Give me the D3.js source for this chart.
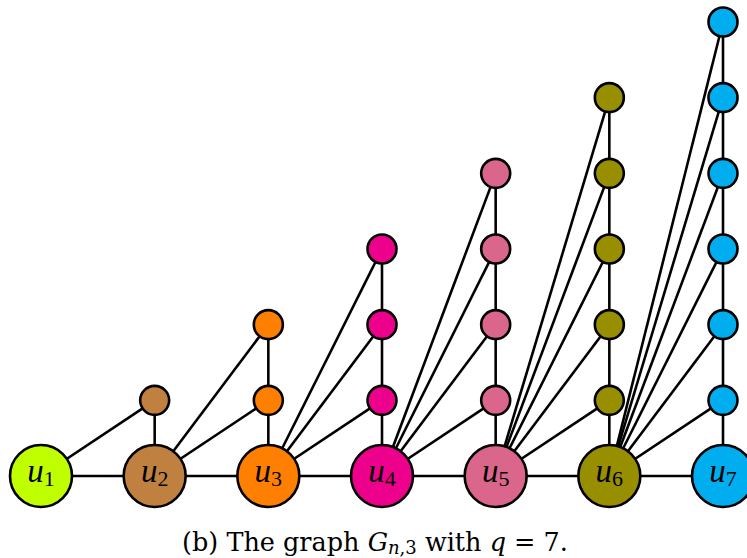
<!DOCTYPE html>
<html>
<head>
<meta charset="utf-8">
<script src="https://cdn.jsdelivr.net/npm/d3@7"></script>
<style>
  body { margin: 0; background: #fff; }
  svg { display: block; }
  .edge { stroke: #000; stroke-width: 2.6; fill: none; }
  .node { stroke: #000; stroke-width: 2.6; }
  .lbl { font-family: "Liberation Serif", serif; fill: #000; }
  .cap { font-family: "DejaVu Serif", serif; fill: #000; }
</style>
</head>
<body>
<svg id="graph" width="747" height="558"></svg>
<script>
/* Data: one column per main vertex u_i */
const names = ["u1", "u2", "u3", "u4", "u5", "u6", "u7"];
const subs = ["1", "2", "3", "4", "5", "6", "7"];
const colors = ["#bfff00", "#c08040", "#ff8000", "#ec008c", "#da668c", "#978e00", "#00aeef"];
const stackSizes = [0, 1, 2, 3, 4, 5, 6];   // small vertices above u_i

const svg = d3.select("#graph");
const x = d3.scaleLinear().domain([0, 6]).range([41, 723]);
const y = d3.scaleLinear().domain([0, 6]).range([476, 22]);

const big = names.map((n, i) => ({ i: i, name: n, level: 0 }));
const small = [];
stackSizes.forEach(function(k, i) {
    for (let l = 1; l <= k; l++) small.push({ i: i, level: l });
});

// edges
const edges = [];
for (let i = 0; i < names.length - 1; i++)
    edges.push([{ i: i, level: 0 }, { i: i + 1, level: 0 }]);
small.forEach(function(s) {
    edges.push([{ i: s.i, level: s.level - 1 }, s]);        // column
    edges.push([{ i: s.i - 1, level: 0 }, s]);              // from previous u
});

svg.selectAll("line.edge")
    .data(edges).enter()
    .append("line").attr("class", "edge")
    .attr("x1", d => x(d[0].i)).attr("y1", d => y(d[0].level))
    .attr("x2", d => x(d[1].i)).attr("y2", d => y(d[1].level));

svg.selectAll("circle.small")
    .data(small).enter()
    .append("circle").attr("class", "node small")
    .attr("cx", d => x(d.i)).attr("cy", d => y(d.level))
    .attr("r", 14.5)
    .attr("fill", d => colors[d.i]);

svg.selectAll("circle.big")
    .data(big).enter()
    .append("circle").attr("class", "node big")
    .attr("cx", d => x(d.i)).attr("cy", d => y(d.level))
    .attr("r", 31)
    .attr("fill", d => colors[d.i]);

const lbl = svg.selectAll("text.node-label")
    .data(big).enter()
    .append("text").attr("class", "lbl node-label")
    .attr("x", d => x(d.i)).attr("y", d => y(0) + 6)
    .attr("text-anchor", "middle");
lbl.append("tspan").attr("font-style", "italic").attr("font-size", 33).text("u");
lbl.append("tspan").attr("font-size", 22).attr("dy", 4).text((d, i) => subs[i]);

// caption
const cap = svg.append("text").attr("class", "cap")
    .attr("x", 375).attr("y", 551)
    .attr("text-anchor", "middle").attr("font-size", 25.5);
cap.append("tspan").text("(b) The graph ");
cap.append("tspan").attr("font-style", "italic").text("G");
cap.append("tspan").attr("font-size", 18).attr("dy", 3).attr("font-style", "italic").text("n");
cap.append("tspan").attr("font-size", 18).text(",3");
cap.append("tspan").attr("dy", -3).text(" with ");
cap.append("tspan").attr("font-style", "italic").text("q");
cap.append("tspan").text(" = 7.");
</script>
</body>
</html>
